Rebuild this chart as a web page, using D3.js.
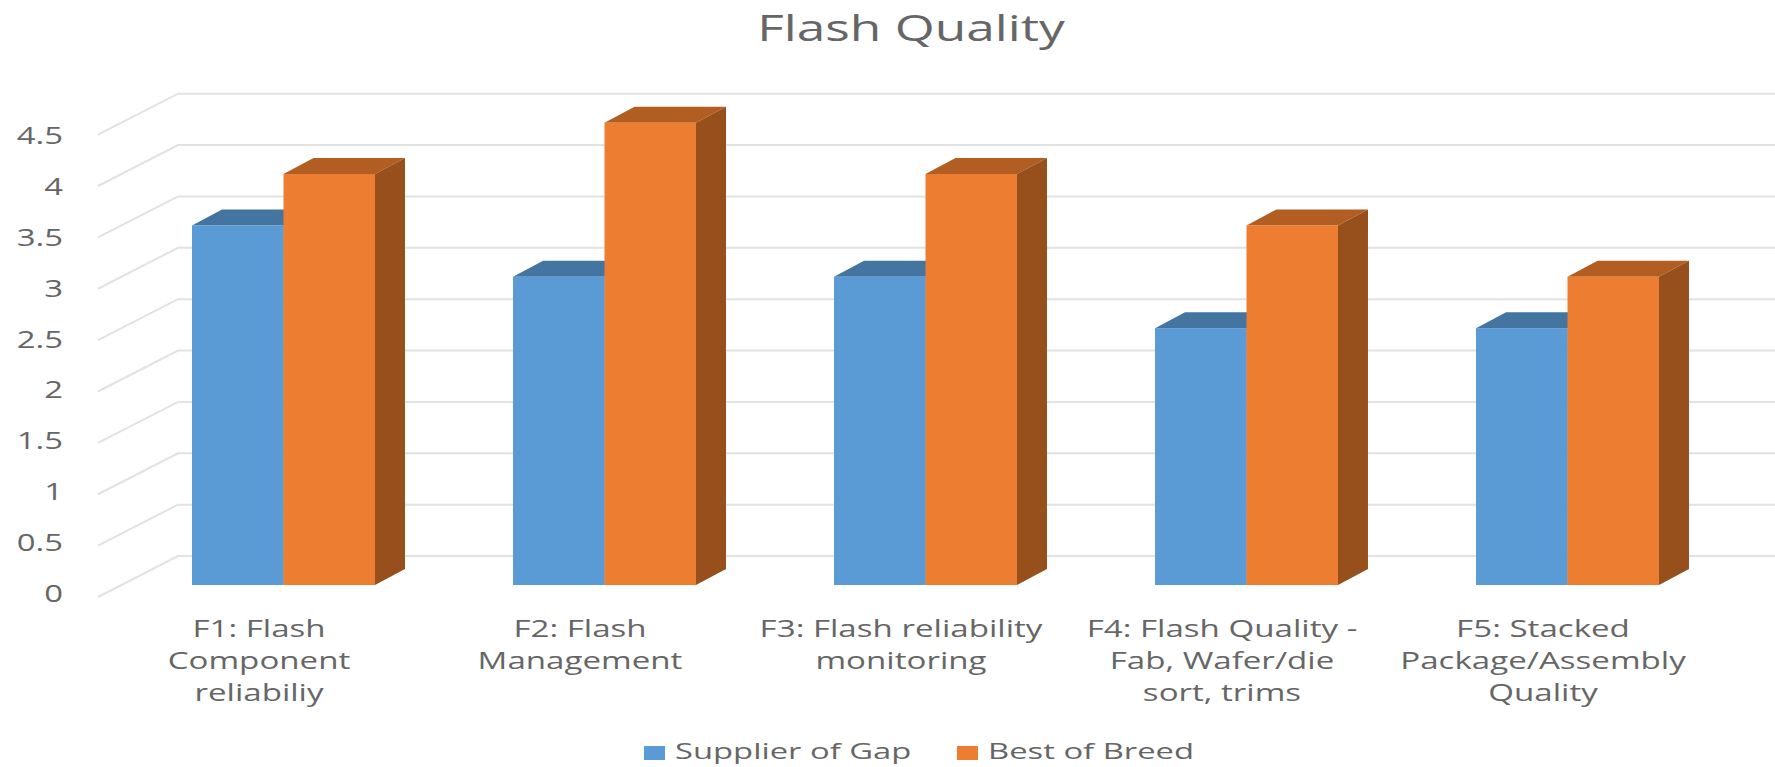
<!DOCTYPE html>
<html>
<head>
<meta charset="utf-8">
<script src="https://cdn.jsdelivr.net/npm/d3@7"></script>
<style>
  html, body { margin: 0; padding: 0; background: #fff; }
  text { font-family: "Open Sans", "Liberation Sans", sans-serif; fill: #666666; }
</style>
</head>
<body>
<svg id="chart" width="1775" height="767"></svg>
<script>
const categories = [
  ["F1: Flash", "Component", "reliabiliy"],
  ["F2: Flash", "Management"],
  ["F3: Flash reliability", "monitoring"],
  ["F4: Flash Quality -", "Fab, Wafer/die", "sort, trims"],
  ["F5: Stacked", "Package/Assembly", "Quality"]
];
const seriesNames = ["Supplier of Gap", "Best of Breed"];
const supplierOfGap = [3.5, 3, 3, 2.5, 2.5];
const bestOfBreed = [4, 4.5, 4, 3.5, 3];
const yTicks = [0, 0.5, 1, 1.5, 2, 2.5, 3, 3.5, 4, 4.5];
const seriesValues = [supplierOfGap, bestOfBreed];

// Colours per series: front, top and side faces of each column
const faceColours = [
  { front: "#5b9bd5", top: "#4474a0", side: "#3a6690" },
  { front: "#ed7d31", top: "#b25e22", side: "#974f1c" }
];

const svg = d3.select("#chart");

// Wide lettering: text is stretched horizontally about its anchor
const placeText = (sel, x, y, sx) =>
  sel.attr("transform", (d, i) => `translate(${x(d, i)},${y(d, i)}) scale(${sx},1)`);

// Front-plane value scale for the columns
const y = d3.scaleLinear().domain([0, 4]).range([585, 174]);
const unit = y(0) - y(1);

// Offsets of the chart box walls
const wallDepth = { dx: 80, dy: -41 };
const barDepth = { dx: 30, dy: -16 };
const floorFront = { x: 98, y: 597 };

// Category bands laid out along the front of the columns
const idx = categories.map((_, i) => i);
const x0 = d3.scaleBand().domain(idx).range([123, 123 + 5 * 321])
  .paddingInner(0.43).paddingOuter(0.215);
const x1 = d3.scaleBand().domain([0, 1]).range([0, x0.bandwidth()]);

// Gridlines: the side-wall diagonal, then along the back wall
const grid = svg.append("g").attr("fill", "none").attr("stroke", "#e2e2e2").attr("stroke-width", 2);
yTicks.forEach(t => {
  const yf = floorFront.y - t * unit;
  const path = d3.path();
  path.moveTo(floorFront.x, yf);
  path.lineTo(floorFront.x + wallDepth.dx, yf + wallDepth.dy);
  path.lineTo(1775, yf + wallDepth.dy);
  grid.append("path").attr("d", path.toString());
});

// Value labels beside the side wall
const yLabel = d3.scaleLinear().domain([0, 4.5]).range([602, 144]);
svg.append("g").selectAll("text").data(yTicks).join("text")
  .attr("text-anchor", "end").attr("font-size", 23)
  .call(placeText, () => 63, t => yLabel(t), 1.43)
  .text(t => t);

// Three-faced columns
const polygon = pts => pts.map(p => p.join(",")).join(" ");
const groups = svg.append("g").selectAll("g").data(idx).join("g");
groups.each(function (i) {
  const g = d3.select(this);
  seriesValues.forEach((vals, s) => {
    const left = x0(i) + x1(s), w = x1.bandwidth();
    const top = y(vals[i]), base = y(0);
    const c = faceColours[s];
    g.append("polygon").attr("fill", c.top).attr("points", polygon([
      [left, top], [left + barDepth.dx, top + barDepth.dy],
      [left + w + barDepth.dx, top + barDepth.dy], [left + w, top]
    ]));
    g.append("polygon").attr("fill", c.side).attr("points", polygon([
      [left + w, top], [left + w + barDepth.dx, top + barDepth.dy],
      [left + w + barDepth.dx, base + barDepth.dy], [left + w, base]
    ]));
    g.append("rect").attr("x", left).attr("y", top)
      .attr("width", w).attr("height", base - top).attr("fill", c.front);
  });
});

// Wrapped category labels
svg.append("g").selectAll("text").data(idx).join("text")
  .attr("text-anchor", "middle").attr("font-size", 23)
  .call(placeText, i => x0(i) + x0.bandwidth() / 2 - 24.5, () => 637, 1.44)
  .each(function (i) {
    d3.select(this).selectAll("tspan").data(categories[i]).join("tspan")
      .attr("x", 0).attr("y", (d, k) => k * 32).text(d => d);
  });

// Title
svg.append("text").attr("text-anchor", "middle").attr("font-size", 37)
  .datum(0)
  .call(placeText, () => 911, () => 41, 1.39)
  .text("Flash Quality");

// Legend
const legendX = [644, 957];
const legend = svg.append("g").selectAll("g").data(seriesNames).join("g")
  .attr("transform", (d, i) => `translate(${legendX[i]},753)`);
legend.append("rect").attr("x", 0).attr("y", -7).attr("width", 21).attr("height", 14)
  .attr("fill", (d, i) => faceColours[i].front);
legend.append("text").attr("font-size", 22)
  .call(placeText, () => 31, () => 6, 1.49)
  .text(d => d);
</script>
</body>
</html>
